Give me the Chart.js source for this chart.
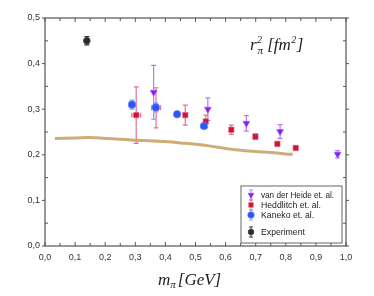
<!DOCTYPE html>
<html>
  <head>
    <meta charset="UTF-8" />
    <script src="https://cdn.jsdelivr.net/npm/chart.js"></script>
    <style>
      body { margin: 0; background: #fff; }
      #box { width: 374px; height: 296px; }
    </style>
  </head>
  <body>
    <div id="box"><canvas id="grafico"></canvas></div>
    <script>
      // pion mass [GeV] and charge radius squared [fm^2]
      const heideM = [0.361, 0.541, 0.669, 0.781, 0.972];
      const heideR = [0.337, 0.300, 0.269, 0.251, 0.201];
      const heideErr = [0.059, 0.025, 0.017, 0.015, 0.008];

      const heddM = [0.303, 0.369, 0.466, 0.534, 0.619, 0.699, 0.772, 0.833];
      const heddR = [0.287, 0.303, 0.287, 0.273, 0.255, 0.240, 0.224, 0.215];
      const heddErr = [0.062, 0.044, 0.022, 0.014, 0.010, 0.006, 0.004, 0.004];
      const heddErrX = [0.015, 0.015, 0, 0, 0, 0, 0, 0];

      const kanekoM = [0.289, 0.368, 0.439, 0.528];
      const kanekoR = [0.310, 0.304, 0.289, 0.263];
      const kanekoErr = [0.010, 0.010, 0.004, 0.004];

      const expM = [0.139];
      const expR = [0.450];
      const expErr = [0.009];

      const curveM = [0.033, 0.1, 0.15, 0.2, 0.25, 0.3, 0.35, 0.4, 0.45, 0.5, 0.55, 0.6, 0.65, 0.7, 0.75, 0.8, 0.823];
      const curveR = [0.236, 0.237, 0.238, 0.236, 0.234, 0.232, 0.231, 0.229, 0.226, 0.223, 0.219, 0.214, 0.210, 0.207, 0.205, 0.202, 0.201];

      const xTicks = [0, 0.1, 0.2, 0.3, 0.4, 0.5, 0.6, 0.7, 0.8, 0.9, 1.0];
      const yTicks = [0, 0.1, 0.2, 0.3, 0.4, 0.5];

      function pts(xs, ys, ex, exx) {
        return xs.map((x, i) => ({ x: x, y: ys[i], e: ex ? ex[i] : 0, ex: exx ? exx[i] : 0 }));
      }
      const virgula = (v) => Number(v).toFixed(1).replace(".", ",");

      // error bars, drawn under the markers
      const barras = {
        id: "barras",
        beforeDatasetsDraw(chart) {
          const ctx = chart.ctx;
          const xs = chart.scales.x, ys = chart.scales.y;
          chart.data.datasets.forEach((ds) => {
            if (!ds.barColor) return;
            ctx.save();
            ctx.strokeStyle = ds.barColor;
            ctx.lineWidth = 1.2;
            ds.data.forEach((p) => {
              const px = xs.getPixelForValue(p.x);
              const py = ys.getPixelForValue(p.y);
              if (p.e) {
                const t = ys.getPixelForValue(p.y + p.e);
                const b = ys.getPixelForValue(p.y - p.e);
                ctx.beginPath();
                ctx.moveTo(px, t); ctx.lineTo(px, b);
                ctx.moveTo(px - 2.5, t); ctx.lineTo(px + 2.5, t);
                ctx.moveTo(px - 2.5, b); ctx.lineTo(px + 2.5, b);
                ctx.stroke();
              }
              if (p.ex) {
                const l = xs.getPixelForValue(p.x - p.ex);
                const r = xs.getPixelForValue(p.x + p.ex);
                ctx.beginPath();
                ctx.moveTo(l, py); ctx.lineTo(r, py);
                ctx.moveTo(l, py - 2.5); ctx.lineTo(l, py + 2.5);
                ctx.moveTo(r, py - 2.5); ctx.lineTo(r, py + 2.5);
                ctx.stroke();
              }
            });
            ctx.restore();
          });
        },
      };

      // writes pieces one after the other: [text, size, dy]
      function escrever(ctx, pecas, x, y, fam) {
        pecas.forEach((p) => {
          ctx.font = "italic " + p[1] + "px " + fam;
          ctx.fillText(p[0], x, y + (p[2] || 0));
          x += ctx.measureText(p[0]).width + (p[3] || 0);
        });
      }

      // frame, minor ticks, axis titles and the legend box
      const moldura = {
        id: "moldura",
        afterDraw(chart) {
          const ctx = chart.ctx;
          const a = chart.chartArea;
          const xs = chart.scales.x, ys = chart.scales.y;
          ctx.save();
          ctx.strokeStyle = "#555";
          ctx.lineWidth = 1.2;
          ctx.strokeRect(a.left, a.top, a.right - a.left, a.bottom - a.top);
          ctx.lineWidth = 1;
          for (let i = 0; i <= 20; i++) {
            const v = i * 0.05;
            const len = i % 2 === 0 ? 4 : 3;
            const px = xs.getPixelForValue(v);
            ctx.beginPath();
            ctx.moveTo(px, a.bottom); ctx.lineTo(px, a.bottom - len);
            ctx.moveTo(px, a.top); ctx.lineTo(px, a.top + len);
            ctx.stroke();
          }
          for (let i = 0; i <= 10; i++) {
            const v = i * 0.05;
            const px = ys.getPixelForValue(v);
            ctx.beginPath();
            if (i % 2 === 0) {
              ctx.moveTo(a.left - 3, px); ctx.lineTo(a.left, px);
              ctx.moveTo(a.right, px); ctx.lineTo(a.right + 3, px);
            } else {
              ctx.moveTo(a.left, px); ctx.lineTo(a.left + 3, px);
              ctx.moveTo(a.right, px); ctx.lineTo(a.right - 3, px);
            }
            ctx.stroke();
          }

          // axis titles
          const serif = "'Liberation Serif', 'DejaVu Serif', serif";
          ctx.fillStyle = "#222";
          ctx.textBaseline = "alphabetic";
          escrever(ctx, [["m", 17, 0], ["\u03c0", 11, 3, 2], ["[GeV]", 17, 0]], 158, 285, serif);
          escrever(ctx, [["r", 17, 0, 1], ["\u03c0", 11, 4, 4], ["[fm", 17, 0, 0.5], ["2", 10, -7, 0.5], ["]", 17, 0]], 250, 50, serif);
          ctx.font = "italic 10px " + serif;
          ctx.fillText("2", 257, 43);

          // legend
          ctx.fillStyle = "#fff";
          ctx.fillRect(241, 186, 101, 57);
          ctx.strokeStyle = "#666";
          ctx.lineWidth = 1;
          ctx.strokeRect(241, 186, 101, 57);
          const linhas = [
            { ds: chart.data.datasets[1], y: 195 },
            { ds: chart.data.datasets[2], y: 205 },
            { ds: chart.data.datasets[3], y: 215 },
            { ds: chart.data.datasets[4], y: 232 },
          ];
          ctx.textBaseline = "middle";
          linhas.forEach((l) => {
            const ds = l.ds;
            ctx.strokeStyle = ds.barColor;
            ctx.lineWidth = 1;
            ctx.beginPath();
            ctx.moveTo(251, l.y - 5); ctx.lineTo(251, l.y + 5);
            ctx.moveTo(249, l.y - 5); ctx.lineTo(253, l.y - 5);
            ctx.moveTo(249, l.y + 5); ctx.lineTo(253, l.y + 5);
            ctx.stroke();
            ctx.fillStyle = ds.backgroundColor;
            ctx.strokeStyle = ds.borderColor;
            Chart.helpers.drawPoint(ctx, {
              pointStyle: ds.pointStyle,
              radius: ds.pointRadius - 0.5,
              rotation: ds.rotation || 0,
              borderWidth: 1,
            }, 251, l.y);
            ctx.fillStyle = "#222";
            ctx.font = "8.7px 'Liberation Sans', Arial, sans-serif";
            ctx.fillText(ds.label, 261, l.y + 0.5, 73);
          });
          ctx.restore();
        },
      };

      const ctx = document.getElementById("grafico").getContext("2d");
      const myChart = new Chart(ctx, {
        type: "scatter",
        data: {
          datasets: [
            {
              label: "curve",
              type: "line",
              data: pts(curveM, curveR),
              borderColor: "rgba(204,166,112,0.95)",
              borderWidth: 3,
              pointRadius: 0,
              tension: 0.3,
              fill: false,
              order: 10,
            },
            {
              label: "van der Heide et. al.",
              data: pts(heideM, heideR, heideErr),
              pointStyle: "triangle",
              rotation: 180,
              pointRadius: 4,
              backgroundColor: "#8a1cf0",
              borderColor: "rgba(160,90,250,0.6)",
              borderWidth: 1,
              barColor: "#b47bf5",
              order: 3,
            },
            {
              label: "Heddlitch et. al.",
              data: pts(heddM, heddR, heddErr, heddErrX),
              pointStyle: "rect",
              pointRadius: 3.8,
              backgroundColor: "#cf1140",
              borderColor: "rgba(230,100,130,0.6)",
              borderWidth: 1,
              barColor: "#e6728d",
              order: 4,
            },
            {
              label: "Kaneko et. al.",
              data: pts(kanekoM, kanekoR, kanekoErr),
              pointStyle: "circle",
              pointRadius: 3.8,
              backgroundColor: "#2f55f5",
              borderColor: "rgba(110,140,250,0.6)",
              borderWidth: 1,
              barColor: "#8ea4f5",
              order: 2,
            },
            {
              label: "Experiment",
              data: pts(expM, expR, expErr),
              pointStyle: "circle",
              pointRadius: 3.3,
              backgroundColor: "#2a2a2a",
              borderColor: "#444",
              borderWidth: 1,
              barColor: "#333",
              order: 1,
            },
          ],
        },
        options: {
          responsive: true,
          maintainAspectRatio: false,
          animation: false,
          layout: { padding: { left: 0, right: 28, top: 18, bottom: 0 } },
          scales: {
            x: {
              type: "linear",
              min: 0,
              max: 1,
              afterBuildTicks: (s) => { s.ticks = xTicks.map((v) => ({ value: v })); },
              afterFit: (s) => { s.height = 50; },
              grid: { display: false, drawTicks: false },
              border: { display: false },
              ticks: {
                padding: 6,
                callback: virgula,
                color: "#333",
                font: { size: 9, family: "'Liberation Sans', Arial, sans-serif" },
              },
            },
            y: {
              min: 0,
              max: 0.5,
              afterBuildTicks: (s) => { s.ticks = yTicks.map((v) => ({ value: v })); },
              afterFit: (s) => { s.width = 45; },
              grid: { display: false, drawTicks: false },
              border: { display: false },
              ticks: {
                padding: 5,
                callback: virgula,
                color: "#333",
                font: { size: 9, family: "'Liberation Sans', Arial, sans-serif" },
              },
            },
          },
          plugins: {
            legend: { display: false },
            tooltip: { enabled: false },
          },
        },
        plugins: [barras, moldura],
      });
    </script>
  </body>
</html>
